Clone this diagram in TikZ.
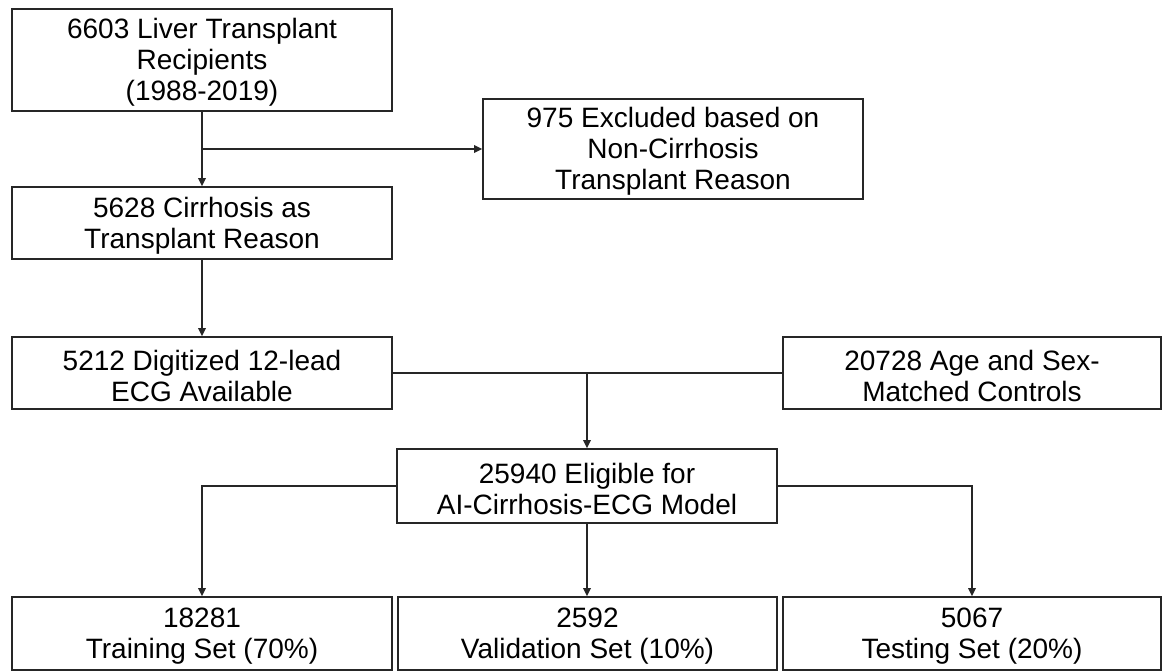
\documentclass[tikz,border=0pt]{standalone}
\usepackage{fontspec}
\setmainfont{Liberation Sans}
\usetikzlibrary{arrows.meta}
\begin{document}
\begin{tikzpicture}[x=1pt,y=-1pt,
  box/.style={draw=black!85, line width=1.7pt, fill=white, inner sep=0pt,
    minimum width=380pt},
  txt/.style={align=center, inner sep=0pt, yshift=-2.5pt,
    font=\fontsize{28}{31}\selectfont},
  link/.style={draw=black!85, line width=1.7pt},
  arrow/.style={link, -{Triangle[length=8pt,width=7.5pt]}}]
\useasboundingbox (0,0) rectangle (1162,671);

% recipient selection column
\node[box, minimum height=102pt] (recip) at (202,60) {};
\node[box, minimum height=100pt] (excl) at (673,149) {};
\node[box, minimum height=72pt] (cirr) at (202,223) {};
\node[box, minimum height=72pt] (ecg) at (202,373) {};
\node[box, minimum height=72pt, minimum width=378pt] (ctrl) at (972,373) {};

% pooled cohort
\node[box, minimum height=74pt] (elig) at (587,486) {};

% data split
\node[box, minimum height=73pt] (train) at (202,633.5) {};
\node[box, minimum height=73pt, minimum width=379pt] (valid) at (587.5,633.5) {};
\node[box, minimum height=73pt, minimum width=378pt] (test) at (972,633.5) {};

% box texts
\node[txt] (recipT) at (recip.center) {6603 Liver Transplant\\Recipients\\(1988-2019)};
\node[txt] (exclT) at (excl.center) {975 Excluded based on\\Non-Cirrhosis\\Transplant Reason};
\node[txt] (cirrT) at (cirr.center) {5628 Cirrhosis as\\Transplant Reason};
\node[txt] (ecgT) at (ecg.center) {5212 Digitized 12-lead\\ECG Available};
\node[txt] (ctrlT) at (ctrl.center) {20728 Age and Sex-\\Matched Controls};
\node[txt] (eligT) at (elig.center) {25940 Eligible for\\AI-Cirrhosis-ECG Model};
\node[txt] (trainT) at (train.center) {18281\\Training Set (70\%)};
\node[txt] (validT) at (valid.center) {2592\\Validation Set (10\%)};
\node[txt] (testT) at (test.center) {5067\\Testing Set (20\%)};

% connectors
\draw[arrow] (recip.south) -- (cirr.north);
\draw[arrow] (recip.south |- excl.west) -- (excl.west);
\draw[arrow] (cirr.south) -- (ecg.north);
\draw[link] (ecg.east) -- (ctrl.west);
\draw[arrow] (elig.north |- ecg.east) -- (elig.north);
\draw[arrow] (elig.west) -| (train.north);
\draw[arrow] (elig.south) -- (elig.south |- valid.north);
\draw[arrow] (elig.east) -| (test.north);
\end{tikzpicture}
\end{document}
